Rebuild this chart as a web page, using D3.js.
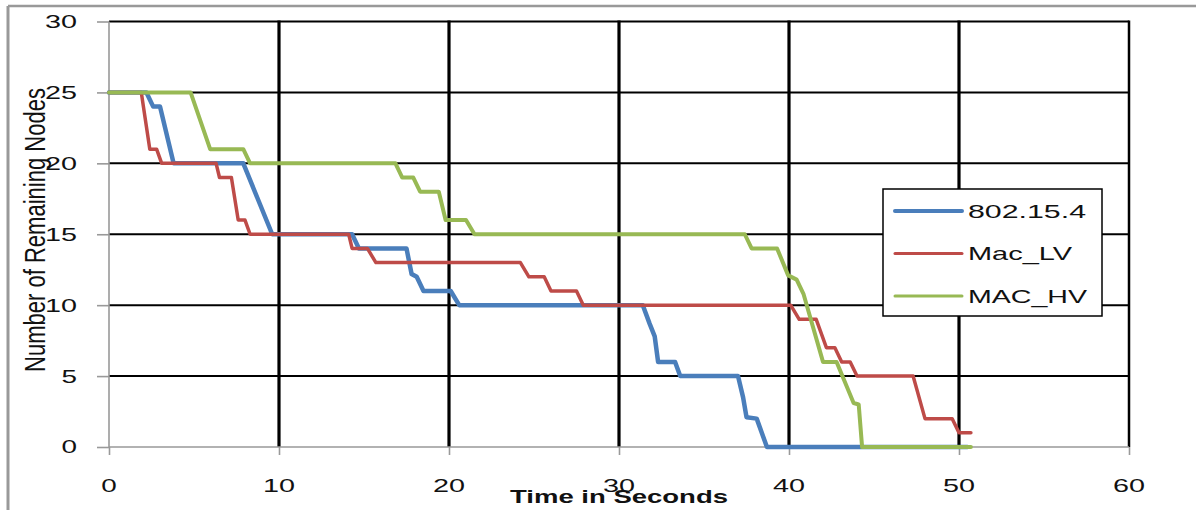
<!DOCTYPE html>
<html>
<head>
<meta charset="utf-8">
<script src="https://d3js.org/d3.v7.min.js"></script>
<style>
  html, body { margin: 0; padding: 0; background: #fff; }
  svg { display: block; }
  text { font-family: "Liberation Sans", Arial, sans-serif; fill: #111; }
</style>
</head>
<body>
<script>
// series: time (s) and remaining nodes
var seriesNames = ["802.15.4", "Mac_LV", "MAC_HV"];
var seriesColors = ["#4a7ebb", "#be4b48", "#98b954"];

var t802 = [0, 2.2, 2.6, 3.0, 3.8, 7.9, 9.6, 14.3, 14.7, 17.5, 17.8, 18.1, 18.5, 20.1, 20.6, 31.4, 31.8, 32.1, 32.3, 33.3, 33.6, 37.0, 37.3, 37.5, 38.1, 38.7, 50.5];
var v802 = [25, 25, 24, 24, 20, 20, 15, 15, 14, 14, 12.2, 12, 11, 11, 10, 10, 8.7, 7.8, 6, 6, 5, 5, 3.5, 2.1, 2, 0, 0];

var tLV = [0, 1.9, 2.4, 2.8, 3.1, 6.3, 6.5, 7.2, 7.6, 8.0, 8.3, 14.1, 14.3, 15.2, 15.7, 24.2, 24.7, 25.6, 26.0, 27.5, 27.9, 40.1, 40.6, 41.6, 42.2, 42.7, 43.1, 43.6, 44.0, 47.3, 48.0, 49.6, 50.0, 50.7];
var vLV = [25, 25, 21, 21, 20, 20, 19, 19, 16, 16, 15, 15, 14, 14, 13, 13, 12, 12, 11, 11, 10, 10, 9, 9, 7, 7, 6, 6, 5, 5, 2, 2, 1, 1];

var tHV = [0, 4.8, 5.95, 7.9, 8.3, 16.85, 17.25, 17.9, 18.3, 19.4, 19.8, 21.0, 21.5, 37.4, 37.8, 39.3, 39.95, 40.45, 40.85, 42.0, 42.8, 43.8, 44.1, 44.3, 50.7];
var vHV = [25, 25, 21, 21, 20, 20, 19, 19, 18, 18, 16, 16, 15, 15, 14, 14, 12.1, 11.8, 10.8, 6, 6, 3.1, 3, 0, 0];

var xTicks = [0, 10, 20, 30, 40, 50, 60];
var yTicks = [0, 5, 10, 15, 20, 25, 30];

var W = 1196, H = 510;

var svg = d3.select("body").append("svg")
    .attr("width", W)
    .attr("height", H);

var x = d3.scaleLinear().domain([0, 60]).range([109, 1129]);
var y = d3.scaleLinear().domain([0, 30]).range([447, 21.5]);

// page frame (top and left only)
svg.append("line")
    .attr("x1", 8).attr("x2", W).attr("y1", 6).attr("y2", 6)
    .attr("stroke", "#999").attr("stroke-width", 2.5);
svg.append("line")
    .attr("x1", 8).attr("x2", 8).attr("y1", 6).attr("y2", H)
    .attr("stroke", "#999").attr("stroke-width", 3);

// grid
var grid = svg.append("g").attr("class", "grid");
grid.selectAll(".hgrid")
    .data(yTicks.filter(function (d) { return d > 0; }))
  .enter().append("line")
    .attr("class", "hgrid")
    .attr("x1", x(0)).attr("x2", x(60))
    .attr("y1", function (d) { return y(d); })
    .attr("y2", function (d) { return y(d); })
    .attr("stroke", "#000").attr("stroke-width", 2);
grid.selectAll(".vgrid")
    .data(xTicks.filter(function (d) { return d > 0; }))
  .enter().append("line")
    .attr("class", "vgrid")
    .attr("x1", function (d) { return x(d); })
    .attr("x2", function (d) { return x(d); })
    .attr("y1", y(30) - 1).attr("y2", y(0))
    .attr("stroke", "#000")
    .attr("stroke-width", function (d) { return d === 60 ? 2.5 : 3.2; });

// axes
var yAxis = d3.axisLeft(y).tickValues(yTicks).tickSize(12).tickFormat("");
var xAxis = d3.axisBottom(x).tickValues(xTicks).tickSize(8).tickFormat("");

var gy = svg.append("g").attr("transform", "translate(" + x(0) + ",0)").call(yAxis);
var gx = svg.append("g").attr("transform", "translate(0," + y(0) + ")").call(xAxis);
[gx, gy].forEach(function (g) {
    g.select(".domain").attr("stroke", "#999").attr("stroke-width", 1.6);
    g.selectAll(".tick line").attr("stroke", "#999").attr("stroke-width", 1.6);
});
gy.select(".domain").attr("d", "M0," + y(30) + "V" + y(0));
gx.select(".domain").attr("d", "M" + x(0) + ",0H" + x(60));

// tick labels (the source picture is stretched sideways, hence textLength)
svg.selectAll(".ylab")
    .data(yTicks)
  .enter().append("text")
    .attr("class", "ylab")
    .attr("x", 77)
    .attr("y", function (d) { return y(d); })
    .attr("dy", "0.36em")
    .attr("text-anchor", "end")
    .attr("font-size", 18)
    .attr("textLength", function (d) { return String(d).length * 16.5 - 1; })
    .attr("lengthAdjust", "spacingAndGlyphs")
    .text(function (d) { return d; });

svg.selectAll(".xlab")
    .data(xTicks)
  .enter().append("text")
    .attr("class", "xlab")
    .attr("x", function (d) { return x(d); })
    .attr("y", 492)
    .attr("text-anchor", "middle")
    .attr("font-size", 18)
    .attr("textLength", function (d) { return String(d).length * 16.5 - 1; })
    .attr("lengthAdjust", "spacingAndGlyphs")
    .text(function (d) { return d; });

// axis titles
svg.append("text")
    .attr("transform", "translate(45,230) scale(1.4,1) rotate(-90)")
    .attr("text-anchor", "middle")
    .attr("font-size", 21)
    .attr("textLength", 284)
    .attr("lengthAdjust", "spacingAndGlyphs")
    .text("Number of Remaining Nodes");

svg.append("text")
    .attr("x", 619)
    .attr("y", 503)
    .attr("text-anchor", "middle")
    .attr("font-size", 19)
    .attr("font-weight", "bold")
    .attr("textLength", 218)
    .attr("lengthAdjust", "spacingAndGlyphs")
    .text("Time in Seconds");

// lines
var series = [
    { name: seriesNames[0], color: seriesColors[0], t: t802, v: v802, w: 4.5 },
    { name: seriesNames[1], color: seriesColors[1], t: tLV, v: vLV, w: 3.5 },
    { name: seriesNames[2], color: seriesColors[2], t: tHV, v: vHV, w: 4 }
];

var line = d3.line()
    .x(function (d) { return x(d[0]); })
    .y(function (d) { return y(d[1]); });

svg.append("g").selectAll("path")
    .data(series)
  .enter().append("path")
    .attr("d", function (s) { return line(d3.zip(s.t, s.v)); })
    .attr("fill", "none")
    .attr("stroke", function (s) { return s.color; })
    .attr("stroke-width", function (s) { return s.w; })
    .attr("stroke-linejoin", "round")
    .attr("stroke-linecap", "round");

// legend
var legend = svg.append("g").attr("transform", "translate(883,189)");
legend.append("rect")
    .attr("width", 219).attr("height", 127)
    .attr("fill", "#fff")
    .attr("stroke", "#000").attr("stroke-width", 1.5);

var legendLens = [118, 104, 119];
var item = legend.selectAll(".item")
    .data(series)
  .enter().append("g")
    .attr("class", "item")
    .attr("transform", function (d, i) { return "translate(0," + (22 + i * 42.5) + ")"; });
item.append("line")
    .attr("x1", 12).attr("x2", 79)
    .attr("stroke", function (d) { return d.color; })
    .attr("stroke-width", function (d, i) { return i === 0 ? 4 : 3; })
    .attr("stroke-linecap", "round");
item.append("text")
    .attr("x", 85)
    .attr("dy", "0.36em")
    .attr("font-size", 19)
    .attr("textLength", function (d, i) { return legendLens[i]; })
    .attr("lengthAdjust", "spacingAndGlyphs")
    .text(function (d) { return d.name; });
</script>
</body>
</html>
